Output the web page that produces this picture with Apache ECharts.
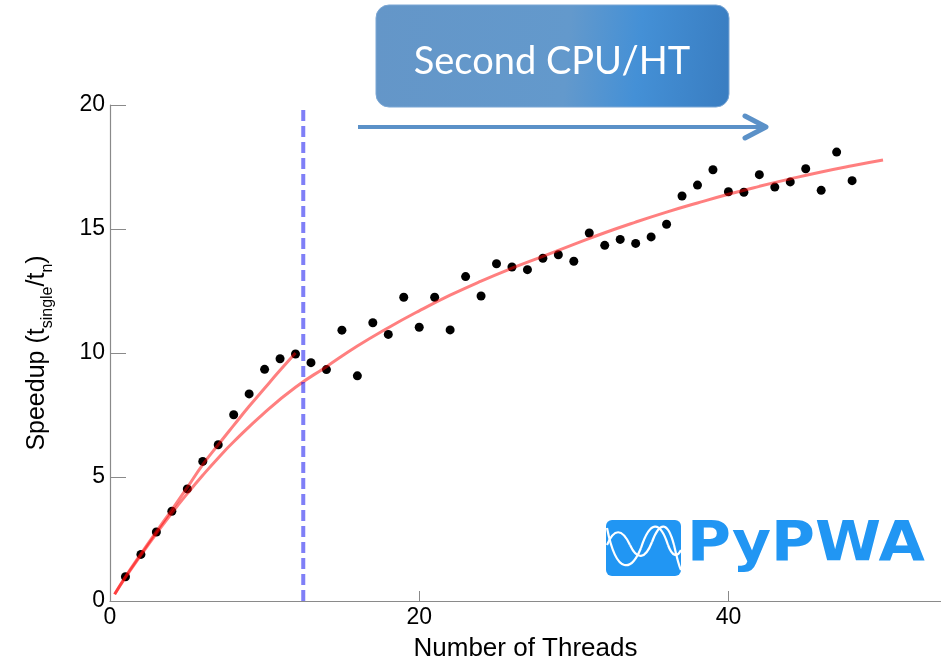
<!DOCTYPE html>
<html>
<head>
<meta charset="utf-8">
<script src="https://cdn.jsdelivr.net/npm/echarts@6/dist/echarts.min.js"></script>
<style>
  html, body { margin: 0; padding: 0; background: #fff; }
  #chart { width: 941px; height: 659px; }
</style>
</head>
<body>
<div id="chart"></div>
<script>
// measured speedup per thread count
const threads = [1, 2, 3, 4, 5, 6, 7, 8, 9, 10, 11, 12, 13, 14, 15, 16, 17, 18, 19, 20,
  21, 22, 23, 24, 25, 26, 27, 28, 29, 30, 31, 32, 33, 34, 35, 36, 37, 38, 39, 40,
  41, 42, 43, 44, 45, 46, 47, 48]
const speedup = [0.98, 1.88, 2.78, 3.62, 4.52, 5.63, 6.30, 7.51, 8.35, 9.34, 9.77, 9.96,
  9.61, 9.33, 10.92, 9.08, 11.22, 10.75, 12.25, 11.04, 12.25, 10.93, 13.08, 12.30,
  13.60, 13.47, 13.36, 13.82, 13.96, 13.70, 14.84, 14.34, 14.58, 14.42, 14.68, 15.19,
  16.33, 16.77, 17.39, 16.50, 16.48, 17.19, 16.69, 16.90, 17.43, 16.56, 18.10, 16.95]

// fit over the first CPU only
const fitOneX = [0.3, 1, 2, 3, 4, 5, 6, 7, 8, 9, 10, 11, 12]
const fitOneY = [0.27, 0.98, 1.9, 2.8, 3.68, 4.58, 5.5, 6.3, 7.08, 7.85, 8.58, 9.3, 10.0]

// fit over all threads
const fitAllX = [0.3, 1, 2, 3, 4, 5, 6, 7, 8, 10, 12, 14, 16, 18, 20, 22, 24, 26, 28, 30,
  32, 34, 36, 38, 40, 42, 44, 46, 48, 50]
const fitAllY = [0.27, 0.95, 1.85, 2.72, 3.55, 4.33, 5.07, 5.77, 6.42, 7.6, 8.62, 9.45,
  10.28, 11.02, 11.7, 12.33, 12.9, 13.42, 13.9, 14.38, 14.85, 15.28, 15.68, 16.05,
  16.4, 16.72, 17.02, 17.3, 17.55, 17.78]

// second CPU / hyperthreading starts here
const cpuSplitX = [12.5, 12.5]
const cpuSplitY = [0, 19.88]

const xTicks = [0, 20, 40]
const yTicks = [0, 5, 10, 15, 20]

const zip = (xs, ys) => xs.map((x, i) => [x, ys[i]])

const font = 'Liberation Sans, Arial, Helvetica, sans-serif'
const axisGray = '#8a8a8a'

const chart = echarts.init(document.getElementById('chart'))

const waveStyle = { stroke: '#fff', lineWidth: 2.2, fill: null }

chart.setOption({
  animation: false,
  backgroundColor: '#fff',
  grid: { left: 110, right: 0, top: 105, bottom: 58, outerBoundsMode: 'none', containLabel: false },
  xAxis: {
    type: 'value',
    min: xTicks[0],
    max: 53.75,
    interval: 20,
    name: 'Number of Threads',
    nameLocation: 'middle',
    nameGap: 35,
    nameTextStyle: { fontFamily: font, fontSize: 26, color: '#000' },
    axisLine: { lineStyle: { color: axisGray, width: 1.2 } },
    axisTick: { inside: true, length: 10, lineStyle: { color: axisGray } },
    axisLabel: { fontFamily: font, fontSize: 23, color: '#000', margin: 5, showMaxLabel: false },
    splitLine: { show: false }
  },
  yAxis: {
    type: 'value',
    min: yTicks[0],
    max: yTicks[yTicks.length - 1],
    interval: 5,
    name: 'Speedup (t{sub|single}/t{sub|n})',
    nameLocation: 'middle',
    nameGap: 73,
    nameTextStyle: {
      fontFamily: font,
      fontSize: 25,
      color: '#000',
      lineHeight: 38,
      verticalAlign: 'middle',
      rich: {
        sub: { fontFamily: font, fontSize: 16, color: '#000', lineHeight: 16, verticalAlign: 'bottom' }
      }
    },
    axisLine: { show: true, lineStyle: { color: axisGray, width: 1.2 } },
    axisTick: { show: true, inside: true, length: 16, lineStyle: { color: axisGray } },
    axisLabel: { fontFamily: font, fontSize: 23, color: '#000', margin: 5 },
    splitLine: { show: false }
  },
  series: [
    {
      name: 'measured',
      type: 'scatter',
      data: zip(threads, speedup),
      symbol: 'circle',
      symbolSize: 9,
      itemStyle: { color: '#000', opacity: 1 },
      z: 2
    },
    {
      name: 'fit one CPU',
      type: 'line',
      data: zip(fitOneX, fitOneY),
      smooth: true,
      showSymbol: false,
      lineStyle: { color: 'rgba(255,0,0,0.5)', width: 3 },
      z: 3
    },
    {
      name: 'fit all',
      type: 'line',
      data: zip(fitAllX, fitAllY),
      smooth: true,
      showSymbol: false,
      lineStyle: { color: 'rgba(255,0,0,0.5)', width: 3 },
      z: 3
    },
    {
      name: 'cpu split',
      type: 'line',
      data: zip(cpuSplitX, cpuSplitY),
      showSymbol: false,
      lineStyle: { color: 'rgba(0,0,240,0.5)', width: 4, type: [11, 5] },
      z: 4
    }
  ],
  graphic: [
    {
      type: 'rect',
      shape: { x: 376, y: 5, width: 353, height: 102, r: 13 },
      style: {
        fill: new echarts.graphic.LinearGradient(0, 0, 1, 0.3, [
          { offset: 0, color: '#6496c8' },
          { offset: 0.55, color: '#6399cc' },
          { offset: 0.75, color: '#4490d6' },
          { offset: 1, color: '#3a7ec2' }
        ]),
        stroke: '#7aa6d4',
        lineWidth: 1
      }
    },
    {
      type: 'text',
      x: 552,
      y: 62,
      style: {
        text: 'Second CPU/HT',
        fill: '#fff',
        font: '38px Lato, "Open Sans", sans-serif',
        textAlign: 'center',
        textVerticalAlign: 'middle'
      }
    },
    {
      type: 'line',
      shape: { x1: 358, y1: 127, x2: 764, y2: 127 },
      style: { stroke: '#5b91c8', lineWidth: 4 }
    },
    {
      type: 'polyline',
      shape: { points: [[745, 116], [766, 127], [745, 138]] },
      style: { stroke: '#5b91c8', lineWidth: 5, lineCap: 'round', lineJoin: 'round', fill: null }
    },
    {
      type: 'rect',
      shape: { x: 606, y: 520, width: 75, height: 56, r: 6 },
      style: { fill: '#2196f3' }
    },
    {
      type: 'bezierCurve',
      shape: { x1: 607, y1: 528, cpx1: 617, cpy1: 578, cpx2: 632, cpy2: 570, x2: 641, y2: 548 },
      style: waveStyle
    },
    {
      type: 'bezierCurve',
      shape: { x1: 641, y1: 548, cpx1: 650, cpy1: 520, cpx2: 660, cpy2: 520, x2: 668, y2: 545 },
      style: waveStyle
    },
    {
      type: 'bezierCurve',
      shape: { x1: 668, y1: 545, cpx1: 672, cpy1: 556, cpx2: 677, cpy2: 558, x2: 681, y2: 550 },
      style: waveStyle
    },
    {
      type: 'bezierCurve',
      shape: { x1: 607, y1: 545, cpx1: 614, cpy1: 528, cpx2: 622, cpy2: 528, x2: 630, y2: 545 },
      style: waveStyle
    },
    {
      type: 'bezierCurve',
      shape: { x1: 630, y1: 545, cpx1: 637, cpy1: 560, cpx2: 645, cpy2: 560, x2: 652, y2: 542 },
      style: waveStyle
    },
    {
      type: 'bezierCurve',
      shape: { x1: 652, y1: 542, cpx1: 660, cpy1: 520, cpx2: 668, cpy2: 522, x2: 674, y2: 545 },
      style: waveStyle
    },
    {
      type: 'bezierCurve',
      shape: { x1: 674, y1: 545, cpx1: 676, cpy1: 554, cpx2: 679, cpy2: 566, x2: 681, y2: 570 },
      style: waveStyle
    },
    {
      type: 'text',
      x: 687,
      y: 545,
      scaleX: 1.07,
      style: {
        text: 'PyPWA',
        fill: '#2196f3',
        font: 'bold 56px "DejaVu Sans", sans-serif',
        textAlign: 'left',
        textVerticalAlign: 'middle'
      }
    }
  ]
})
</script>
</body>
</html>
